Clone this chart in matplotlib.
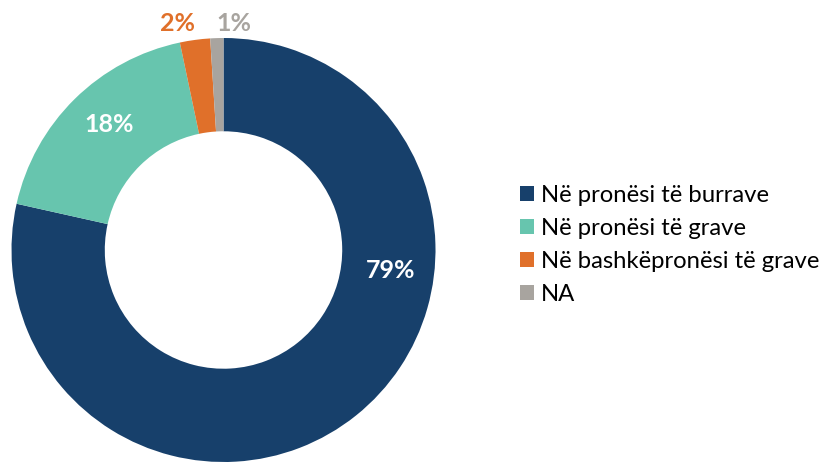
import matplotlib
matplotlib.use("Agg")
import matplotlib.pyplot as plt
from matplotlib.patches import Patch

categories = ["Në pronësi të burrave", "Në pronësi të grave", "Në bashkëpronësi të grave", "NA"]
values = [78.5, 18.2, 2.3, 1.0]
pct_labels = ["79%", "18%", "2%", "1%"]

colors = ["#17406B", "#67C5AE", "#E0702A", "#A8A49F"]
label_colors = ["white", "white", "#E0702A", "#A8A49F"]
label_pos = [(0.79, -0.095), (-0.54, 0.59), (-0.215, 1.07), (0.05, 1.07)]

plt.rcParams['font.family'] = ['Lato', 'DejaVu Sans']

fig = plt.figure(figsize=(8.27, 4.62), dpi=100)
ax = fig.add_axes([11.5/827, 0, 424/827, 424/462])
wedges, _ = ax.pie(values, colors=colors, startangle=90, counterclock=False,
                   radius=1.0, wedgeprops=dict(width=0.44, edgecolor='none'))
ax.set_xlim(-1, 1)
ax.set_ylim(-1, 1)
ax.set_aspect('equal')
for w in wedges:
    w.set_clip_on(False)

for lab, col, (x, y) in zip(pct_labels, label_colors, label_pos):
    ax.text(x, y, lab, color=col, fontsize=18, fontweight='bold', ha='center', va='center')

handles = [Patch(facecolor=c, edgecolor='none') for c in colors]
fig.legend(handles, categories, loc='center left', bbox_to_anchor=(510/827, 1 - 245/462),
           frameon=False, fontsize=17.2, handlelength=0.6, handleheight=0.6,
           handletextpad=0.3, labelspacing=0.5, borderaxespad=0)

fig.savefig("out.png", dpi=100)
